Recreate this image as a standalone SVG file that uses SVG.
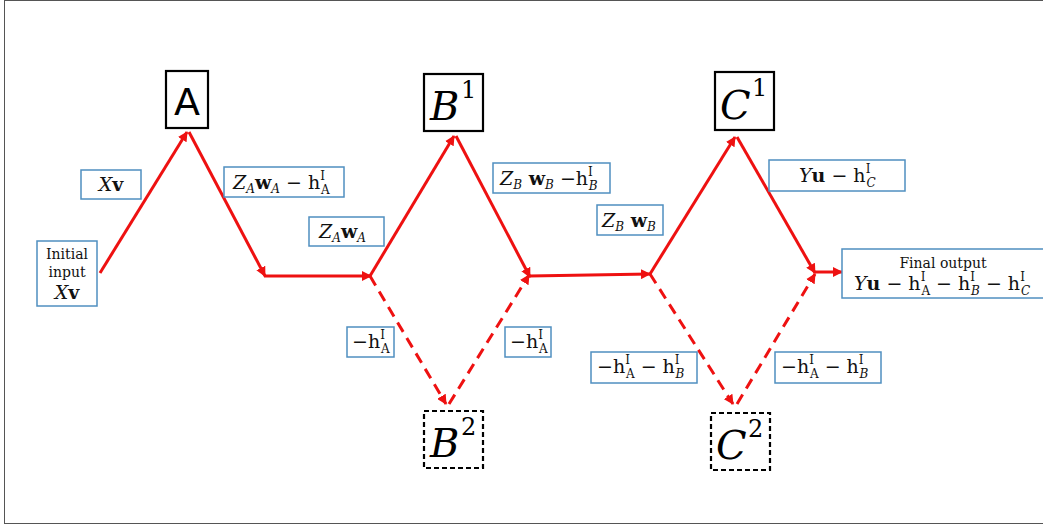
<svg xmlns="http://www.w3.org/2000/svg" width="1043" height="527" viewBox="0 0 1043 527">
<style>
.lbl{fill:#fff;stroke:#4f8fc0;stroke-width:1.5}
.node{fill:#fff;stroke:#000;stroke-width:2.2}
.dnode{fill:#fff;stroke:#000;stroke-width:2.2;stroke-dasharray:5 3}
.m{font-family:"DejaVu Serif","Liberation Serif",serif;font-size:19px;fill:#111}
.i{font-style:italic}
.b{font-weight:bold}
.s{font-size:12px}
.w{font-family:"DejaVu Serif","Liberation Serif",serif;font-size:14px;fill:#111}
.big{font-family:"DejaVu Serif","Liberation Serif",serif;font-style:italic;font-size:40px;fill:#000}
.sup{font-family:"DejaVu Serif","Liberation Serif",serif;font-size:24px;fill:#000}
.e{fill:none;stroke:#ee1111;stroke-width:3}
.d{fill:none;stroke:#ee1111;stroke-width:3;stroke-dasharray:11 7}
</style>
<defs>
<marker id="ah" viewBox="0 0 10 10" refX="9" refY="5" markerWidth="10" markerHeight="10" markerUnits="userSpaceOnUse" orient="auto">
<path d="M0,0 L10,5 L0,10 z" fill="#ee1111"/>
</marker>
</defs>
<rect x="4.5" y="0.5" width="1042" height="523" fill="#fff" stroke="#555" stroke-width="1"/>
<g id="connectors">
<line class="e" x1="100" y1="273" x2="187" y2="132" marker-end="url(#ah)"/>
<line class="e" x1="189" y1="132" x2="265" y2="276" marker-end="url(#ah)"/>
<line class="e" x1="264" y1="276" x2="371" y2="276" marker-end="url(#ah)"/>
<line class="e" x1="370" y1="276" x2="454" y2="136" marker-end="url(#ah)"/>
<line class="e" x1="456" y1="136" x2="530" y2="277" marker-end="url(#ah)"/>
<line class="d" x1="370" y1="276" x2="446" y2="404" marker-end="url(#ah)"/>
<line class="d" x1="449" y1="404" x2="529" y2="275" marker-end="url(#ah)"/>
<line class="e" x1="529" y1="276" x2="650" y2="274" marker-end="url(#ah)"/>
<line class="e" x1="650" y1="274" x2="735" y2="137" marker-end="url(#ah)"/>
<line class="e" x1="737" y1="137" x2="815" y2="273" marker-end="url(#ah)"/>
<line class="d" x1="650" y1="274" x2="733" y2="404" marker-end="url(#ah)"/>
<line class="d" x1="737" y1="404" x2="815" y2="274" marker-end="url(#ah)"/>
<line class="e" x1="814" y1="272" x2="842" y2="272" marker-end="url(#ah)"/>
</g>
<g id="nodeA"><rect class="node" x="166" y="71" width="42" height="57"/><text x="187" y="115" text-anchor="middle" font-family="DejaVu Sans,Liberation Sans,sans-serif" font-size="38">A</text></g>
<g id="nodeB1"><rect class="node" x="424" y="74" width="59" height="57"/><text x="430" y="120" class="big">B</text><text x="461" y="98" class="sup">1</text></g>
<g id="nodeC1"><rect class="node" x="715" y="72" width="59" height="58"/><text x="720" y="119" class="big">C</text><text x="752" y="96" class="sup">1</text></g>
<g id="nodeB2"><rect class="dnode" x="424" y="411" width="59" height="57"/><text x="430" y="457" class="big">B</text><text x="461" y="435" class="sup">2</text></g>
<g id="nodeC2"><rect class="dnode" x="711" y="413" width="59" height="57"/><text x="716" y="459" class="big">C</text><text x="748" y="437" class="sup">2</text></g>
<g id="init"><rect class="lbl" x="37" y="241" width="60" height="65"/>
<text class="w" x="67" y="259" text-anchor="middle">Initial</text>
<text class="w" x="67" y="277" text-anchor="middle">input</text>
<text class="m" x="67" y="299" text-anchor="middle"><tspan class="i">X</tspan><tspan class="b">v</tspan></text></g>
<g id="lblXv"><rect class="lbl" x="81" y="170" width="60" height="29"/>
<text class="m" x="111" y="191" text-anchor="middle"><tspan class="i">X</tspan><tspan class="b">v</tspan></text></g>
<g id="lblA1"><rect class="lbl" x="224" y="167" width="120" height="30"/>
<text class="m" x="233" y="189"><tspan class="i">Z</tspan><tspan class="i s" dy="4">A</tspan><tspan class="b" dy="-4">w</tspan><tspan class="i s" dy="4">A</tspan><tspan dy="-4"> − h</tspan><tspan class="s" dy="-9">I</tspan><tspan class="s" dx="-4" dy="14">A</tspan></text></g>
<g id="lblA2"><rect class="lbl" x="309" y="217" width="75" height="29"/>
<text class="m" x="319" y="238"><tspan class="i">Z</tspan><tspan class="i s" dy="4">A</tspan><tspan class="b" dy="-4">w</tspan><tspan class="i s" dy="4">A</tspan></text></g>
<g id="lblB1"><rect class="lbl" x="493" y="163" width="117" height="30"/>
<text class="m" x="500" y="185"><tspan class="i">Z</tspan><tspan class="i s" dy="4">B</tspan><tspan class="b" dy="-4"> w</tspan><tspan class="i s" dy="4">B</tspan><tspan dy="-4"> −h</tspan><tspan class="s" dy="-9">I</tspan><tspan class="i s" dx="-4" dy="14">B</tspan></text></g>
<g id="lblB2"><rect class="lbl" x="597" y="205" width="66" height="30"/>
<text class="m" x="602" y="227"><tspan class="i">Z</tspan><tspan class="i s" dy="4">B</tspan><tspan class="b" dy="-4"> w</tspan><tspan class="i s" dy="4">B</tspan></text></g>
<g id="lblC1"><rect class="lbl" x="769" y="160" width="136" height="31"/>
<text class="m" x="799" y="182"><tspan class="i">Y</tspan><tspan class="b">u</tspan><tspan> − h</tspan><tspan class="s" dy="-9">I</tspan><tspan class="i s" dx="-4" dy="14">C</tspan></text></g>
<g id="final"><rect class="lbl" x="842" y="249" width="203" height="49"/>
<text class="w" x="943" y="268" text-anchor="middle">Final output</text>
<text class="m" x="854" y="290"><tspan class="i">Y</tspan><tspan class="b">u</tspan><tspan> − h</tspan><tspan class="s" dy="-9">I</tspan><tspan class="s" dx="-4" dy="14">A</tspan><tspan dy="-5"> − h</tspan><tspan class="s" dy="-9">I</tspan><tspan class="i s" dx="-4" dy="14">B</tspan><tspan dy="-5"> − h</tspan><tspan class="s" dy="-9">I</tspan><tspan class="i s" dx="-4" dy="14">C</tspan></text></g>
<g id="lblD1"><rect class="lbl" x="347" y="327" width="47" height="30"/>
<text class="m" x="352" y="348"><tspan>−h</tspan><tspan class="s" dy="-9">I</tspan><tspan class="s" dx="-4" dy="14">A</tspan></text></g>
<g id="lblD2"><rect class="lbl" x="505" y="327" width="46" height="30"/>
<text class="m" x="510" y="348"><tspan>−h</tspan><tspan class="s" dy="-9">I</tspan><tspan class="s" dx="-4" dy="14">A</tspan></text></g>
<g id="lblD3"><rect class="lbl" x="591" y="352" width="106" height="31"/>
<text class="m" x="597" y="373"><tspan>−h</tspan><tspan class="s" dy="-9">I</tspan><tspan class="s" dx="-4" dy="14">A</tspan><tspan dy="-5"> − h</tspan><tspan class="s" dy="-9">I</tspan><tspan class="i s" dx="-4" dy="14">B</tspan></text></g>
<g id="lblD4"><rect class="lbl" x="775" y="352" width="106" height="31"/>
<text class="m" x="781" y="373"><tspan>−h</tspan><tspan class="s" dy="-9">I</tspan><tspan class="s" dx="-4" dy="14">A</tspan><tspan dy="-5"> − h</tspan><tspan class="s" dy="-9">I</tspan><tspan class="i s" dx="-4" dy="14">B</tspan></text></g>
</svg>
